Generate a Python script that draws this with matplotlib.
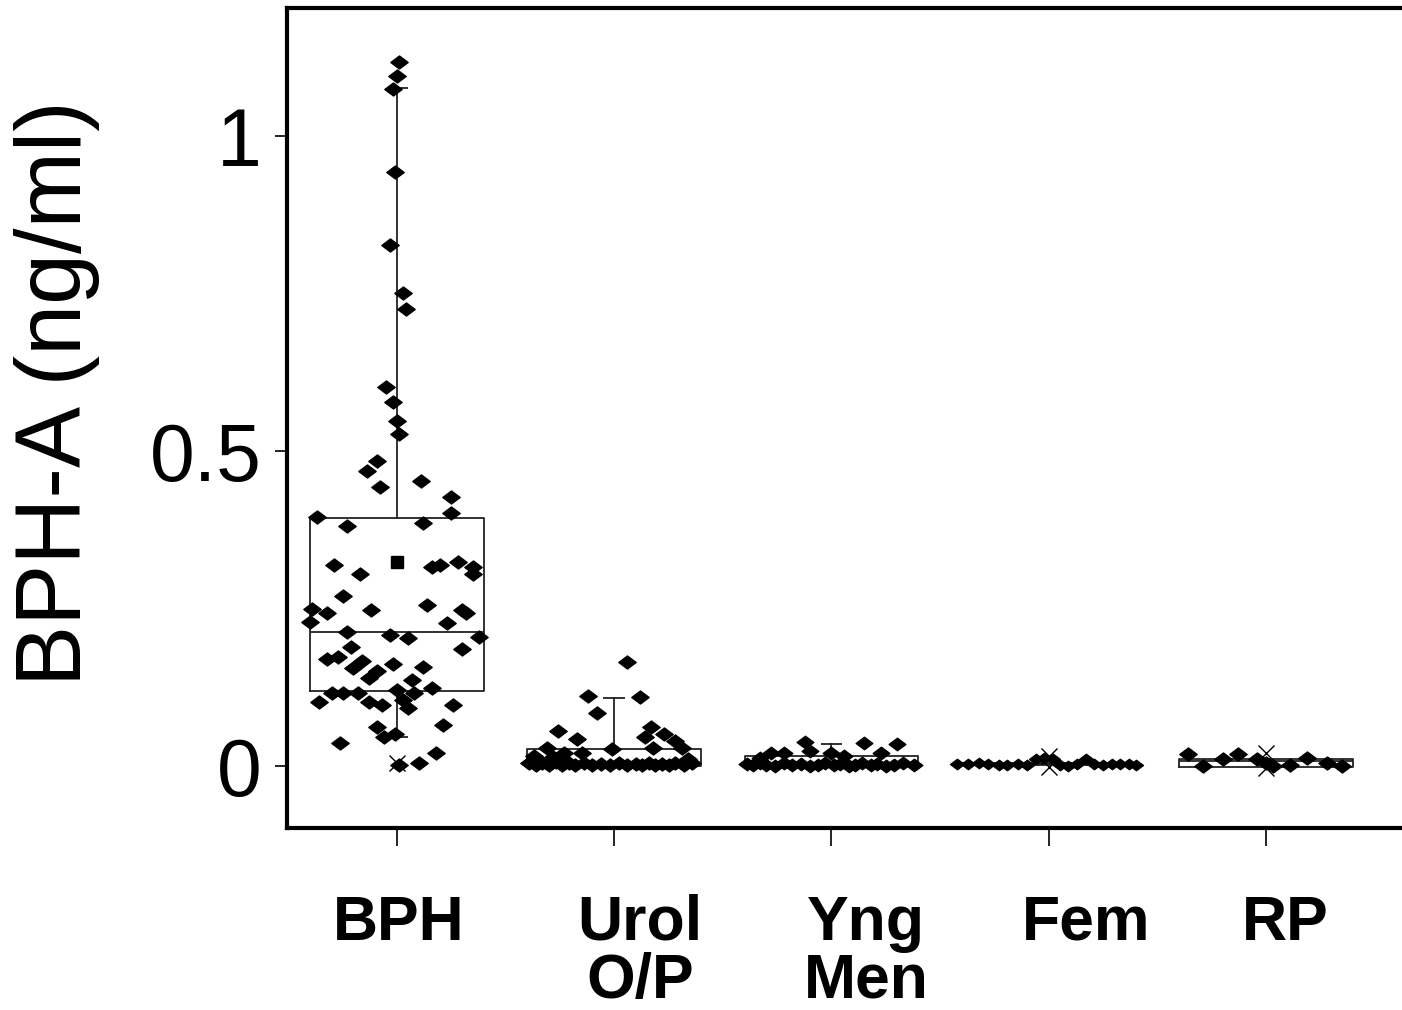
import matplotlib
matplotlib.use("Agg")
import matplotlib.pyplot as plt
import matplotlib.transforms as mtransforms
from matplotlib.path import Path

plt.rcParams['font.family'] = ['Liberation Sans', 'DejaVu Sans']

# categories and tick labels
groups = ["BPH", "Urol\nO/P", "Yng\nMen", "Fem", "RP"]
positions = [1, 2, 3, 4, 5]

# individual measurements (ng/ml) and their horizontal spread within a group
bph_vals = [1.117, 1.095, 1.075, 0.943, 0.827, 0.751, 0.725, 0.602, 0.578, 0.548,
            0.527, 0.484, 0.468, 0.443, 0.452, 0.427, 0.402, 0.395, 0.381, 0.386,
            0.319, 0.305, 0.316, 0.319, 0.325, 0.317, 0.306, 0.271, 0.248, 0.256,
            0.248, 0.243, 0.249, 0.243, 0.229, 0.227, 0.214, 0.208, 0.203, 0.205,
            0.189, 0.186, 0.170, 0.173, 0.156, 0.167, 0.152, 0.162, 0.157, 0.140,
            0.137, 0.117, 0.116, 0.117, 0.121, 0.117, 0.124, 0.102, 0.102, 0.097,
            0.105, 0.092, 0.097, 0.063, 0.065, 0.052, 0.046, 0.037, 0.022, 0.003,
            0.005]
bph_jit = [0.01, 0.00, -0.02, -0.01, -0.03, 0.03, 0.04, -0.05, -0.02, 0.00,
           0.01, -0.09, -0.14, -0.08, 0.11, 0.25, 0.25, -0.37, -0.23, 0.12,
           -0.29, -0.17, 0.16, 0.20, 0.28, 0.35, 0.35, -0.25, -0.12, 0.14,
           0.30, 0.32, -0.39, -0.32, -0.40, 0.23, -0.23, -0.03, 0.05, 0.38,
           -0.21, 0.30, -0.32, -0.27, -0.20, -0.16, -0.09, -0.02, 0.12, -0.13,
           0.07, -0.30, -0.25, -0.18, 0.00, 0.08, 0.16, -0.36, -0.13, -0.07,
           0.03, 0.05, 0.26, -0.09, 0.21, -0.01, -0.06, -0.26, 0.18, 0.01,
           0.10]

urol_vals = [0.165, 0.111, 0.110, 0.084, 0.056, 0.062, 0.052, 0.041, 0.043, 0.030,
             0.046, 0.030, 0.029, 0.027, 0.022, 0.016, 0.022, 0.012, 0.015,
             0.005, 0.002, 0.006, 0.003, 0.007, 0.002, 0.005, 0.003, 0.006, 0.002,
             0.004, 0.003, 0.005, 0.002, 0.004, 0.003, 0.006, 0.002, 0.004, 0.003,
             0.005, 0.002, 0.006]
urol_jit = [0.06, -0.12, 0.12, -0.08, -0.26, 0.17, 0.23, 0.28, -0.17, -0.31,
            0.14, 0.18, 0.31, -0.01, -0.23, -0.37, -0.15, 0.34, -0.28,
            -0.39, -0.36, -0.33, -0.30, -0.27, -0.24, -0.21, -0.18, -0.14, -0.10,
            -0.06, -0.02, 0.02, 0.06, 0.10, 0.13, 0.16, 0.19, 0.22, 0.25,
            0.28, 0.32, 0.36]

yng_vals = [0.038, 0.037, 0.035, 0.025, 0.022, 0.021, 0.021, 0.017, 0.022, 0.013,
            0.004, 0.002, 0.006, 0.003, 0.001, 0.005, 0.002, 0.004, 0.001, 0.003,
            0.005, 0.002, 0.004, 0.001, 0.003, 0.005, 0.002, 0.004, 0.001, 0.003,
            0.006, 0.002]
yng_jit = [-0.12, 0.15, 0.30, -0.10, -0.22, -0.28, 0.23, 0.06, 0.00, -0.33,
           -0.39, -0.36, -0.33, -0.30, -0.26, -0.22, -0.18, -0.14, -0.10, -0.06,
           -0.03, 0.01, 0.04, 0.08, 0.11, 0.14, 0.18, 0.21, 0.25, 0.29,
           0.33, 0.38]

fem_vals = [0.004, 0.004, 0.005, 0.004, 0.003, 0.002, 0.004, 0.003, 0.012, 0.013,
            0.011, 0.003, 0.001, 0.004, 0.012, 0.004, 0.003, 0.004, 0.004, 0.004,
            0.003]
fem_jit = [-0.42, -0.37, -0.32, -0.28, -0.23, -0.19, -0.14, -0.10, -0.06, -0.02,
           0.02, 0.05, 0.09, 0.13, 0.17, 0.21, 0.25, 0.29, 0.33, 0.37,
           0.40]

rp_vals = [0.019, 0.000, 0.011, 0.019, 0.011, 0.006, 0.000, 0.003, 0.013, 0.006,
           0.000]
rp_jit = [-0.36, -0.29, -0.20, -0.13, -0.04, 0.00, 0.03, 0.11, 0.19, 0.28,
          0.35]

all_vals = [bph_vals, urol_vals, yng_vals, fem_vals, rp_vals]
all_jit = [bph_jit, urol_jit, yng_jit, fem_jit, rp_jit]
point_sizes = [12.5, 12.5, 12.0, 10.0, 12.5]

# box summary per group
q1 = [0.119, 0.000, 0.000, 0.002, -0.001]
med = [0.214, 0.004, 0.003, 0.004, 0.008]
q3 = [0.394, 0.028, 0.017, 0.006, 0.011]
whislo = [0.046, 0.000, 0.000, 0.002, -0.001]
whishi = [1.076, 0.108, 0.035, 0.006, 0.011]
cap_left = [0.00, -0.05, -0.05, 0.0, 0.0]
cap_right = [0.05, 0.05, 0.05, 0.0, 0.0]

# group mean shown as a square (BPH only)
mean_pos = [1]
mean_vals = [0.324]

# extreme percentile crosses
cross_pos = [1, 4, 4, 5, 5]
cross_vals = [0.005, -0.001, 0.017, 0.021, -0.003]

fig = plt.figure(figsize=(14.02, 10.10), dpi=100)
ax = fig.add_axes([0.2047, 0.180, 0.7939, 0.812])

stats = []
for i in range(len(groups)):
    stats.append(dict(med=med[i], q1=q1[i], q3=q3[i],
                      whislo=whislo[i], whishi=whishi[i], fliers=[]))
ax.bxp(stats, positions=positions, widths=0.8, showcaps=False,
       boxprops=dict(color='#222222', linewidth=1.3),
       whiskerprops=dict(color='#222222', linewidth=1.3),
       medianprops=dict(color='#222222', linewidth=1.3))

for i, p in enumerate(positions):
    if cap_right[i] != cap_left[i]:
        ax.hlines([whishi[i]], p + cap_left[i], p + cap_right[i],
                  color='#222222', linewidth=1.3)
        if i == 0:
            ax.hlines([whislo[i]], p + cap_left[i], p + cap_right[i],
                      color='#222222', linewidth=1.3)

diamond = Path([(-1, 0), (0, 0.75), (1, 0), (0, -0.75), (-1, 0)],
               [Path.MOVETO, Path.LINETO, Path.LINETO, Path.LINETO, Path.CLOSEPOLY])

for i, p in enumerate(positions):
    xs = [p + j for j in all_jit[i]]
    ax.plot(xs, all_vals[i], linestyle='none', marker=diamond,
            markersize=point_sizes[i], color='black', zorder=3)

ax.plot(mean_pos, mean_vals, linestyle='none', marker='s', markersize=9,
        color='black', zorder=4)
ax.plot(cross_pos, cross_vals, linestyle='none', marker='x', markersize=11,
        color='black', markeredgewidth=1.0, zorder=4)

ax.set_xlim(0.494, 5.617)
ax.set_ylim(-0.098, 1.203)
ax.set_yticks([0, 0.5, 1])
ax.set_yticklabels(['0', '0.5', '1'])
ax.set_xticks(positions)
ax.set_xticklabels([''] * len(groups))

# labels sit a little right of their ticks in the original
label_shift = [0.01, 0.12, 0.16, 0.17, 0.09]
trans = mtransforms.blended_transform_factory(ax.transData, ax.transAxes)
for p, name, s in zip(positions, groups, label_shift):
    ax.text(p + s, -0.080, name, transform=trans, ha='center', va='top',
            fontsize=45, fontweight='bold', linespacing=0.98)

ax.tick_params(axis='y', labelsize=58, length=9, width=1.2, pad=9)
ax.tick_params(axis='x', length=13, width=1.2)

for side in ['left', 'top', 'bottom']:
    ax.spines[side].set_linewidth(3)
ax.spines['right'].set_visible(False)

ax.set_ylabel('BPH-A (ng/ml)', fontsize=66)
ax.yaxis.set_label_coords(-0.168, 0.530)

fig.savefig('out.png', dpi=100)
